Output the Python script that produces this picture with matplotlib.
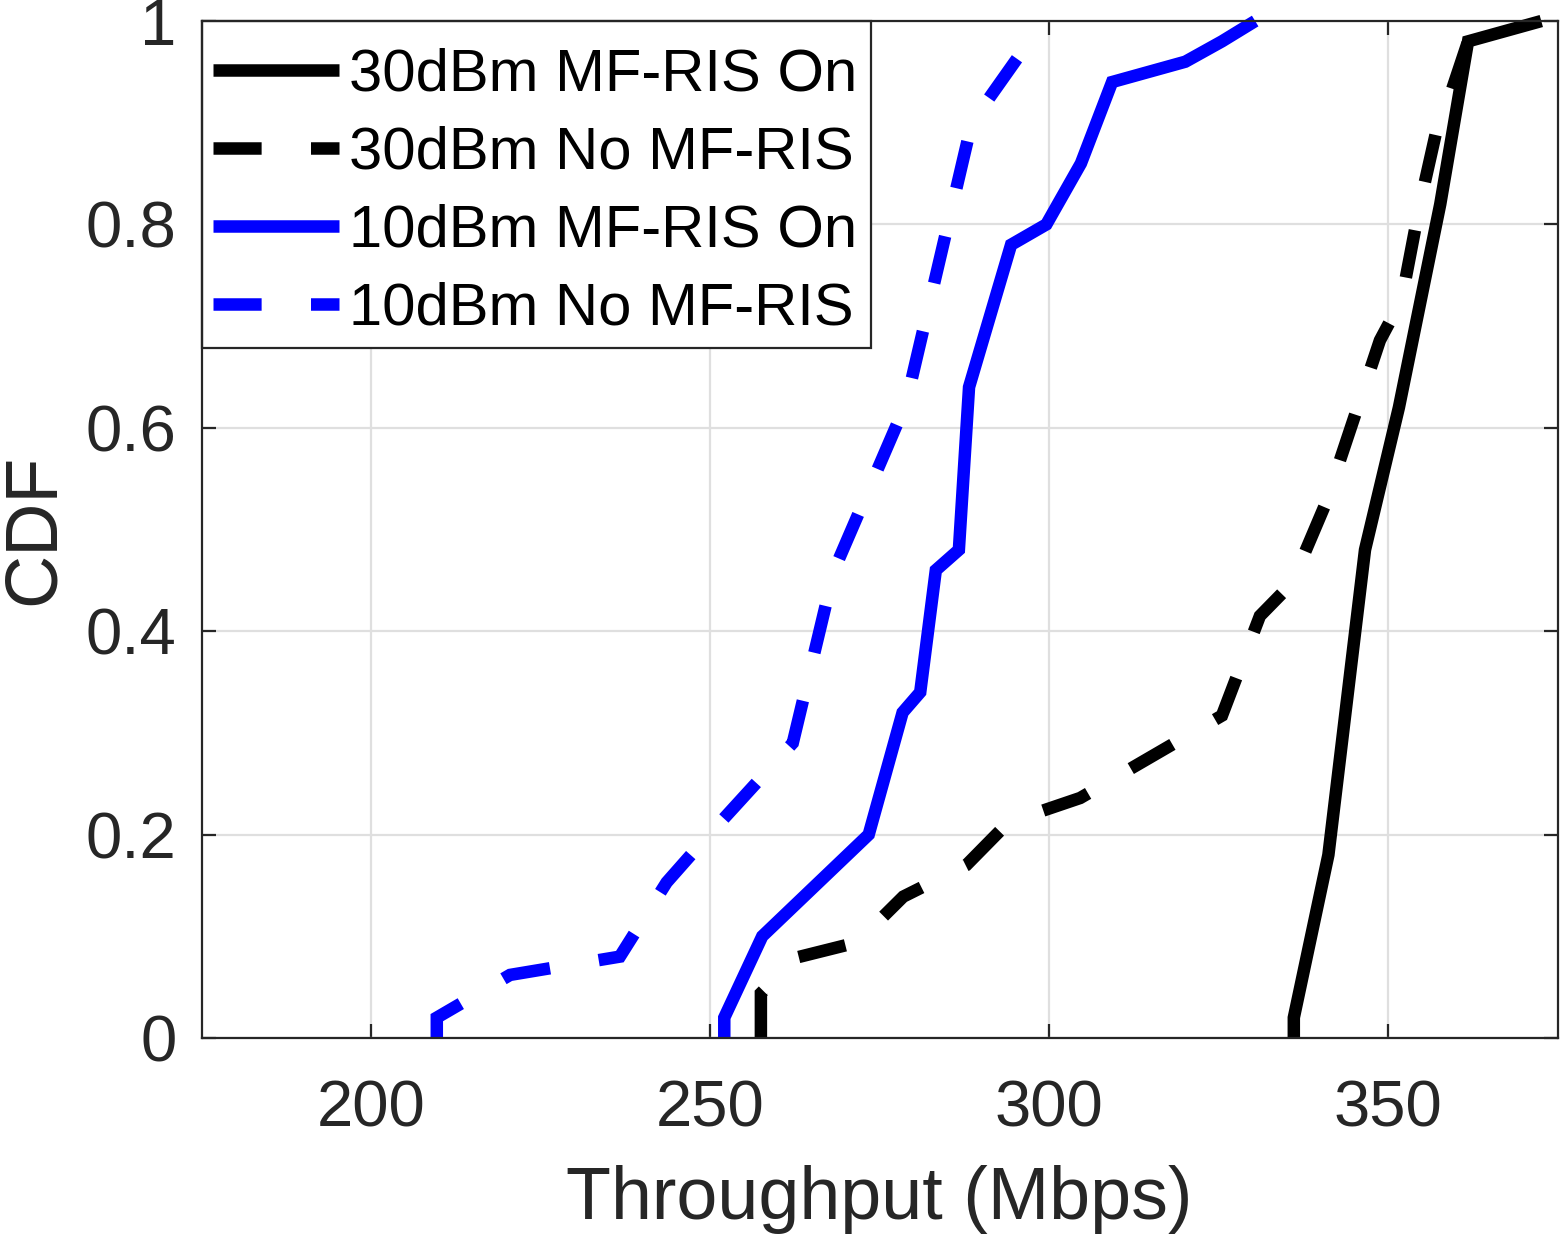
import matplotlib
matplotlib.use("Agg")
import matplotlib.pyplot as plt
from matplotlib.patches import Rectangle

# ---- data ----
x_30_on = [336.1, 336.1, 341.2, 346.6, 351.6, 357.7, 361.8, 372.6]
y_30_on = [0.0, 0.02, 0.18, 0.48, 0.62, 0.82, 0.98, 1.0]

x_30_no = [257.5, 257.5, 262.7, 271.7, 278.5, 287.8, 294.0, 304.6, 325.5, 331.1,
           335.8, 340.7, 348.8, 352.0, 354.7, 357.4, 358.8, 361.8, 367.1]
y_30_no = [0.0, 0.044, 0.079, 0.094, 0.139, 0.17, 0.212, 0.236, 0.317, 0.415,
           0.447, 0.524, 0.686, 0.726, 0.82, 0.90, 0.92, 0.98, 1.0]

x_10_on = [252.1, 252.1, 257.7, 273.4, 278.4, 281.0, 283.3, 286.7, 288.2, 294.4,
           299.6, 304.7, 309.3, 320.1, 325.5, 330.4]
y_10_on = [0.0, 0.02, 0.10, 0.20, 0.32, 0.34, 0.46, 0.48, 0.64, 0.78,
           0.80, 0.86, 0.94, 0.96, 0.98, 1.0]

x_10_no = [209.7, 209.7, 220.5, 236.7, 243.6, 248.5, 262.2, 268.3, 278.9, 288.6, 299.2]
y_10_no = [0.0, 0.02, 0.062, 0.08, 0.153, 0.19, 0.29, 0.46, 0.624, 0.90, 1.0]

labels = ["30dBm MF-RIS On", "30dBm No MF-RIS", "10dBm MF-RIS On", "10dBm No MF-RIS"]
x_ticks = [200, 250, 300, 350]
y_ticks = [0, 0.2, 0.4, 0.6, 0.8, 1]
y_tick_labels = ["0", "0.2", "0.4", "0.6", "0.8", "1"]

# ---- styling ----
plt.rcParams['font.family'] = ['Liberation Sans', 'DejaVu Sans']
dark = '#262626'
lw = 9.0
dash = (0, (3.85, 3.95))

fig = plt.figure(figsize=(15.61, 12.37), dpi=100)
ax = fig.add_axes([0.1291, 0.1609, 0.8687, 0.8221])

series = [
    (x_30_on, y_30_on, 'black', '-'),
    (x_30_no, y_30_no, 'black', dash),
    (x_10_on, y_10_on, '#0000ff', '-'),
    (x_10_no, y_10_no, '#0000ff', dash),
]
for (xs, ys, c, ls), lab in zip(series, labels):
    ax.plot(xs, ys, color=c, linestyle=ls, linewidth=lw, label=lab,
            solid_capstyle='butt', dash_capstyle='butt',
            solid_joinstyle='miter', dash_joinstyle='miter', clip_on=False, zorder=3)

ax.set_xlim(175, 375)
ax.set_ylim(0, 1)
ax.set_xticks(x_ticks)
ax.set_yticks(y_ticks)
ax.set_yticklabels(y_tick_labels)

ax.grid(True, color='#dfdfdf', linewidth=1.6, zorder=0)
ax.set_axisbelow(True)
for s in ax.spines.values():
    s.set_color(dark)
    s.set_linewidth(1.6)
    s.set_zorder(6)

ax.tick_params(axis='both', direction='in', length=10, width=1.6, color=dark,
               labelcolor=dark, labelsize=47, top=True, right=True)
ax.tick_params(axis='x', pad=30)
ax.tick_params(axis='y', pad=18)

ax.set_xlabel("Throughput (Mbps)", fontsize=53, color=dark, labelpad=18)
ax.set_ylabel("CDF", fontsize=53, color=dark, labelpad=12)

# legend frame drawn separately so vertical/horizontal padding can differ
frame = Rectangle((0, 0.6785), 0.4937, 0.3215, transform=ax.transAxes,
                  facecolor='white', edgecolor=dark, linewidth=1.6, zorder=4.5,
                  clip_on=False)
ax.add_patch(frame)
leg = ax.legend(loc='upper left', bbox_to_anchor=(0, 0.9853), borderaxespad=0,
                fontsize=43, frameon=False, handlelength=2.1, handletextpad=0.17,
                labelspacing=0.385, borderpad=0.2)
leg.set_zorder(5)
for t in leg.get_texts():
    t.set_color('black')

fig.savefig("out.png", dpi=100)
